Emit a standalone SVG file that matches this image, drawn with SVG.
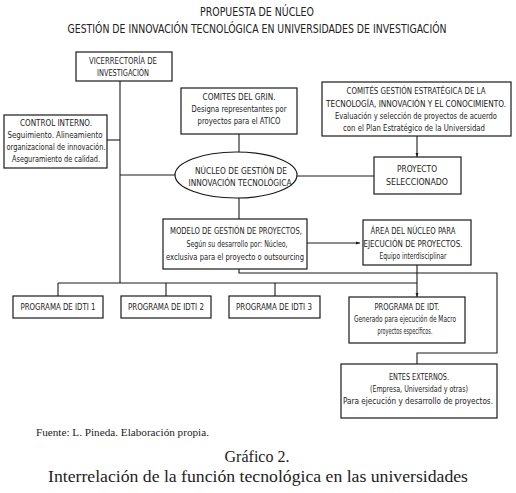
<svg xmlns="http://www.w3.org/2000/svg" width="516" height="493" viewBox="0 0 516 493">
<style>
.bg{fill:#ffffff}
.box{fill:#ffffff;stroke:#1a1a1a;stroke-width:1.2}
.ln{fill:none;stroke:#1a1a1a;stroke-width:1.1}
.t{font-family:"DejaVu Sans Condensed","Liberation Sans",sans-serif;font-size:9px;fill:#222;text-anchor:middle}
.sm{font-size:8px}
.ti{font-family:"DejaVu Sans Condensed","Liberation Sans",sans-serif;font-size:11.5px;fill:#222;text-anchor:middle}
.s{font-family:"Liberation Serif",serif;fill:#222}
</style>
<defs>
<marker id="ah" markerWidth="5" markerHeight="5" refX="4" refY="2.5" orient="auto" markerUnits="userSpaceOnUse">
<path d="M0,1 L4,2.5 L0,4 z" fill="#1a1a1a"/>
</marker>
</defs>
<rect class="bg" x="0" y="0" width="516" height="493"/>

<g id="title">
<text class="ti" x="257" y="16" textLength="114" lengthAdjust="spacingAndGlyphs">PROPUESTA DE NÚCLEO</text>
<text class="ti" x="257" y="33" textLength="379" lengthAdjust="spacingAndGlyphs">GESTIÓN DE INNOVACIÓN TECNOLÓGICA  EN UNIVERSIDADES DE INVESTIGACIÓN</text>
</g>

<g id="connectors">
<path class="ln" d="M120,81 V283"/>
<path class="ln" d="M107,140 H120"/>
<path class="ln" d="M120,175 H175"/>
<path class="ln" d="M239,134 V152"/>
<path class="ln" d="M297,176 H374"/>
<path class="ln" d="M417,136 V157" marker-end="url(#ah)"/>
<path class="ln" d="M239,198 V219"/>
<path class="ln" d="M307,243 H360" marker-end="url(#ah)"/>
<path class="ln" d="M239,269 V273 H497 V353 H417 V364"/>
<path class="ln" d="M417,265 V297" marker-end="url(#ah)"/>
<path class="ln" d="M58,283 H417"/>
<path class="ln" d="M58,283 V296"/>
<path class="ln" d="M166,283 V296"/>
<path class="ln" d="M275,283 V296"/>
</g>

<g id="vicerrectoria">
<rect class="box" x="76" y="52" width="96" height="29"/>
<text class="t" x="123" y="64" textLength="68" lengthAdjust="spacingAndGlyphs">VICERRECTORÍA DE</text>
<text class="t" x="123" y="76" textLength="52" lengthAdjust="spacingAndGlyphs">INVESTIGACIÓN</text>
</g>

<g id="control">
<rect class="box" x="4" y="115" width="103" height="53"/>
<text class="t" x="56" y="126" textLength="72" lengthAdjust="spacingAndGlyphs">CONTROL INTERNO.</text>
<text class="t" x="55" y="138" textLength="95" lengthAdjust="spacingAndGlyphs">Seguimiento. Alineamiento</text>
<text class="t" x="56" y="150" textLength="99" lengthAdjust="spacingAndGlyphs">organizacional de innovación.</text>
<text class="t" x="56" y="162" textLength="88" lengthAdjust="spacingAndGlyphs">Aseguramiento de calidad.</text>
</g>

<g id="comites-grin">
<rect class="box" x="181" y="88" width="116" height="46"/>
<text class="t" x="239" y="100" textLength="73" lengthAdjust="spacingAndGlyphs">COMITES DEL GRIN.</text>
<text class="t" x="239" y="112" textLength="95" lengthAdjust="spacingAndGlyphs">Designa representantes por</text>
<text class="t" x="239" y="124" textLength="83" lengthAdjust="spacingAndGlyphs">proyectos para el ATICO</text>
</g>

<g id="comites-gestion">
<rect class="box" x="322" y="82" width="189" height="54"/>
<text class="t" x="416" y="94" textLength="139" lengthAdjust="spacingAndGlyphs">COMITÉS GESTIÓN ESTRATÉGICA DE LA</text>
<text class="t sm" x="416" y="106.5" textLength="180" lengthAdjust="spacingAndGlyphs">TECNOLOGÍA, INNOVACIÓN Y EL CONOCIMIENTO.</text>
<text class="t sm" x="416" y="118.5" textLength="162" lengthAdjust="spacingAndGlyphs">Evaluación y selección de proyectos de acuerdo</text>
<text class="t" x="414" y="130.5" textLength="142" lengthAdjust="spacingAndGlyphs">con el Plan Estratégico de la Universidad</text>
</g>

<g id="nucleo">
<ellipse class="box" cx="236" cy="175" rx="61" ry="23"/>
<text class="t" x="241" y="174" textLength="92" lengthAdjust="spacingAndGlyphs">NÚCLEO DE GESTIÓN DE</text>
<text class="t" x="240" y="186" textLength="103" lengthAdjust="spacingAndGlyphs">INNOVACIÓN TECNOLÓGICA</text>
</g>

<g id="proyecto">
<rect class="box" x="374" y="157" width="87" height="37"/>
<text class="t" x="417" y="172" textLength="40" lengthAdjust="spacingAndGlyphs">PROYECTO</text>
<text class="t" x="417" y="185" textLength="62" lengthAdjust="spacingAndGlyphs">SELECCIONADO</text>
</g>

<g id="modelo">
<rect class="box" x="163" y="219" width="144" height="50"/>
<text class="t" x="236" y="234" textLength="132" lengthAdjust="spacingAndGlyphs">MODELO DE GESTIÓN DE PROYECTOS,</text>
<text class="t" x="237" y="247" textLength="101" lengthAdjust="spacingAndGlyphs">Según su desarrollo por: Núcleo,</text>
<text class="t" x="235" y="260" textLength="138" lengthAdjust="spacingAndGlyphs">exclusiva para el proyecto o outsourcing</text>
</g>

<g id="area">
<rect class="box" x="363" y="220" width="108" height="45"/>
<text class="t" x="413" y="234" textLength="85" lengthAdjust="spacingAndGlyphs">ÁREA DEL NÚCLEO PARA</text>
<text class="t" x="413" y="247" textLength="99" lengthAdjust="spacingAndGlyphs">EJECUCIÓN DE PROYECTOS.</text>
<text class="t" x="413" y="259" textLength="67" lengthAdjust="spacingAndGlyphs">Equipo interdisciplinar</text>
</g>

<g id="idti1">
<rect class="box" x="13" y="296" width="90" height="22"/>
<text class="t" x="58" y="310" textLength="75" lengthAdjust="spacingAndGlyphs">PROGRAMA DE IDTI 1</text>
</g>
<g id="idti2">
<rect class="box" x="121" y="296" width="90" height="22"/>
<text class="t" x="166" y="310" textLength="76" lengthAdjust="spacingAndGlyphs">PROGRAMA DE IDTI 2</text>
</g>
<g id="idti3">
<rect class="box" x="229" y="296" width="91" height="22"/>
<text class="t" x="274" y="310" textLength="76" lengthAdjust="spacingAndGlyphs">PROGRAMA DE IDTI 3</text>
</g>

<g id="programa-idt">
<rect class="box" x="349" y="297" width="116" height="46"/>
<text class="t" x="407" y="310" textLength="65" lengthAdjust="spacingAndGlyphs">PROGRAMA DE IDT.</text>
<text class="t" x="405" y="322" textLength="102" lengthAdjust="spacingAndGlyphs">Generado para ejecución de Macro</text>
<text class="t" x="405" y="334" textLength="55" lengthAdjust="spacingAndGlyphs">proyectos específicos.</text>
</g>

<g id="entes">
<rect class="box" x="341" y="364" width="156" height="54"/>
<text class="t" x="419" y="380" textLength="60" lengthAdjust="spacingAndGlyphs">ENTES EXTERNOS.</text>
<text class="t" x="419" y="392" textLength="98" lengthAdjust="spacingAndGlyphs">(Empresa, Universidad y otras)</text>
<text class="t" x="418" y="404" textLength="150" lengthAdjust="spacingAndGlyphs">Para ejecución y desarrollo de proyectos.</text>
</g>

<g id="footer">
<text class="s" x="36" y="436" font-size="9.5" textLength="173" lengthAdjust="spacingAndGlyphs">Fuente: L. Pineda. Elaboración propia.</text>
<text class="s" x="257" y="462" font-size="16" text-anchor="middle">Gráfico 2.</text>
<text class="s" x="258" y="482" font-size="16" text-anchor="middle" textLength="420" lengthAdjust="spacingAndGlyphs">Interrelación de la función tecnológica en las universidades</text>
</g>
</svg>
